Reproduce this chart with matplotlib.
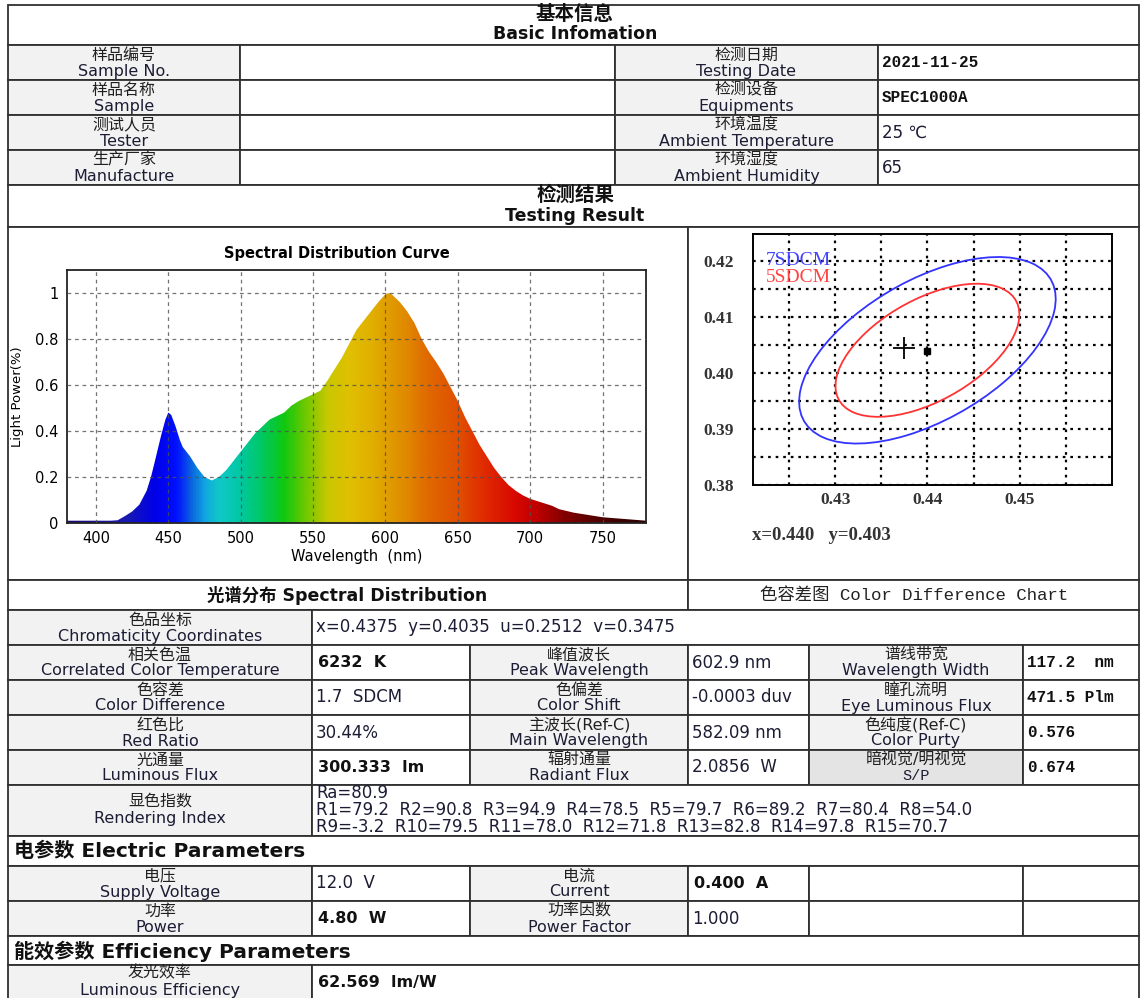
import numpy as np
import matplotlib
matplotlib.use("Agg")
import matplotlib.pyplot as plt
from matplotlib.patches import Rectangle, Ellipse
from matplotlib.colors import LinearSegmentedColormap

plt.rcParams['font.family'] = ['DejaVu Sans', 'Noto Sans CJK SC']

# ---- datos: curva espectral ----
wavelength = [380, 390, 400, 410, 415, 420, 425, 430, 435, 438, 440, 445, 448, 450, 452, 455,
              458, 460, 465, 470, 475, 480, 485, 490, 495, 500, 505, 510, 515, 520, 525, 530,
              535, 540, 545, 550, 555, 560, 565, 570, 575, 580, 585, 590, 595, 600, 603, 605,
              610, 615, 620, 625, 630, 635, 640, 645, 650, 655, 660, 665, 670, 675, 680, 685,
              690, 695, 700, 705, 710, 715, 720, 730, 740, 750, 760, 770, 780]
light_power = [0.01, 0.01, 0.01, 0.01, 0.012, 0.03, 0.05, 0.08, 0.14, 0.20, 0.25, 0.38, 0.45, 0.48,
               0.47, 0.42, 0.36, 0.33, 0.29, 0.24, 0.20, 0.185, 0.20, 0.23, 0.27, 0.31, 0.35, 0.39,
               0.42, 0.45, 0.465, 0.48, 0.51, 0.53, 0.545, 0.56, 0.575, 0.62, 0.67, 0.72, 0.78,
               0.84, 0.88, 0.92, 0.96, 0.995, 1.0, 0.99, 0.96, 0.92, 0.87, 0.80, 0.745, 0.70,
               0.65, 0.59, 0.53, 0.46, 0.40, 0.34, 0.29, 0.24, 0.20, 0.165, 0.14, 0.12, 0.105,
               0.095, 0.085, 0.075, 0.06, 0.045, 0.035, 0.025, 0.02, 0.015, 0.01]
spec_xticks = [400, 450, 500, 550, 600, 650, 700, 750]
spec_yticks = [0, 0.2, 0.4, 0.6, 0.8, 1]
spec_ylabels = ['0', '0.2', '0.4', '0.6', '0.8', '1']

# ---- datos: diagrama de tolerancia de color ----
sdcm7 = dict(xy=(0.4400, 0.4041), width=0.0385, height=0.0201, angle=54.2)
sdcm5 = dict(xy=(0.4400, 0.4041), width=0.0274, height=0.0146, angle=54.2)
cross_xy = (0.4375, 0.4045)
centre_xy = (0.4400, 0.4040)
centre_text = "x=0.440   y=0.403"
cd_xticks = [0.43, 0.44, 0.45]
cd_yticks = [0.38, 0.39, 0.40, 0.41, 0.42]
cd_xgrid = [0.425, 0.435, 0.445, 0.455]
cd_ygrid = [0.385, 0.395, 0.405, 0.415]

# ---- datos: tabla ----
basic_left = [("样品编号", "Sample No."), ("样品名称", "Sample"), ("测试人员", "Tester"), ("生产厂家", "Manufacture")]
basic_right = [("检测日期", "Testing Date", "2021-11-25"), ("检测设备", "Equipments", "SPEC1000A"),
               ("环境温度", "Ambient Temperature", "25 ℃"), ("环境湿度", "Ambient Humidity", "65")]
chroma = ("色品坐标", "Chromaticity Coordinates", "x=0.4375  y=0.4035  u=0.2512  v=0.3475")
optical_rows = [
    [("相关色温", "Correlated Color Temperature", "6232  K"), ("峰值波长", "Peak Wavelength", "602.9 nm"),
     ("谱线带宽", "Wavelength Width", "117.2  nm")],
    [("色容差", "Color Difference", "1.7  SDCM"), ("色偏差", "Color Shift", "-0.0003 duv"),
     ("瞳孔流明", "Eye Luminous Flux", "471.5 Plm")],
    [("红色比", "Red Ratio", "30.44%"), ("主波长(Ref-C)", "Main Wavelength", "582.09 nm"),
     ("色纯度(Ref-C)", "Color Purty", "0.576")],
    [("光通量", "Luminous Flux", "300.333  lm"), ("辐射通量", "Radiant Flux", "2.0856  W"),
     ("暗视觉/明视觉", "S/P", "0.674")],
]
render_lines = ["Ra=80.9",
                "R1=79.2  R2=90.8  R3=94.9  R4=78.5  R5=79.7  R6=89.2  R7=80.4  R8=54.0",
                "R9=-3.2  R10=79.5  R11=78.0  R12=71.8  R13=82.8  R14=97.8  R15=70.7"]
electric_rows = [[("电压", "Supply Voltage", "12.0  V"), ("电流", "Current", "0.400  A")],
                 [("功率", "Power", "4.80  W"), ("功率因数", "Power Factor", "1.000")]]
efficiency = ("发光效率", "Luminous Efficiency", "62.569  lm/W")

mono_texts = ["2021-11-25", "SPEC1000A", "117.2  nm", "471.5 Plm", "0.576", "0.674", "S/P"]
bold_values = ["6232  K", "300.333  lm", "4.80  W", "0.400  A", "62.569  lm/W"]

# ---- figura ----
W, H = 1140, 998
fig = plt.figure(figsize=(W / 100, H / 100), dpi=100)
base = fig.add_axes([0, 0, 1, 1])
base.set_xlim(0, W)
base.set_ylim(H, 0)
base.axis('off')

TXT = '#1c1c34'
CN = '#202020'
LINE = '#303030'
GRAY = '#f2f2f2'
MONO = ['Liberation Mono', 'Noto Sans CJK SC']


def px_axes(x0, y0, x1, y1):
    return fig.add_axes([x0 / W, 1 - y1 / H, (x1 - x0) / W, (y1 - y0) / H])


def cell(x0, y0, x1, y1, fill='white'):
    base.add_patch(Rectangle((x0, y0), x1 - x0, y1 - y0, facecolor=fill, edgecolor=LINE, lw=1.3, zorder=1))


def label(x0, y0, x1, y1, cn, en, fill=GRAY, dy=(10, 26)):
    cell(x0, y0, x1, y1, fill)
    xc = (x0 + x1) / 2
    base.text(xc, y0 + dy[0], cn, ha='center', va='center', fontsize=11.5, color=CN, zorder=3)
    if en in mono_texts:
        base.text(xc, y0 + dy[1], en, ha='center', va='center', fontsize=11, color=TXT, family=MONO, zorder=3)
    else:
        base.text(xc, y0 + dy[1], en, ha='center', va='center', fontsize=11.5, color=TXT, zorder=3)


def value(x0, y0, x1, y1, txt):
    cell(x0, y0, x1, y1)
    if not txt:
        return
    if txt in mono_texts:
        base.text(x0 + 4, (y0 + y1) / 2, txt, ha='left', va='center', fontsize=11.5, color='#111',
                  family=MONO, weight='bold', zorder=3)
    elif txt in bold_values:
        base.text(x0 + 6, (y0 + y1) / 2, txt, ha='left', va='center', fontsize=11.5, color='#111',
                  weight='bold', zorder=3)
    else:
        base.text(x0 + 4, (y0 + y1) / 2, txt, ha='left', va='center', fontsize=12, color=TXT, zorder=3)


R = 1139
# titulo
cell(8, 5, R, 45)
base.text(575, 14, "基本信息", ha='center', va='center', fontsize=14, weight='bold', color='#111')
base.text(575, 34, "Basic Infomation", ha='center', va='center', fontsize=12.5, weight='bold', color='#111')

tops = [45, 80, 115, 150, 185]
for i, (cn, en) in enumerate(basic_left):
    label(8, tops[i], 240, tops[i + 1], cn, en)
    value(240, tops[i], 615, tops[i + 1], "")
    rc, re_, rv = basic_right[i]
    label(615, tops[i], 878, tops[i + 1], rc, re_)
    value(878, tops[i], R, tops[i + 1], rv)

cell(8, 185, R, 227)
base.text(575, 195, "检测结果", ha='center', va='center', fontsize=14, weight='bold', color='#111')
base.text(575, 216, "Testing Result", ha='center', va='center', fontsize=12.5, weight='bold', color='#111')

cell(8, 227, 688, 580)
cell(688, 227, R, 580)
cell(8, 580, 688, 610)
cell(688, 580, R, 610)
base.text(347, 595, "光谱分布 Spectral Distribution", ha='center', va='center', fontsize=12.5,
          weight='bold', color='#111')
base.text(914, 595, "色容差图 Color Difference Chart", ha='center', va='center', fontsize=12.5,
          family=MONO, color='#222')

label(8, 610, 312, 645, chroma[0], chroma[1])
value(312, 610, R, 645, chroma[2])

cols = [8, 312, 470, 688, 809, 1023, R]
otops = [645, 680, 715, 750, 785]
for i, row in enumerate(optical_rows):
    for j, (cn, en, v) in enumerate(row):
        fill = '#e4e4e4' if en == "S/P" else GRAY
        label(cols[2 * j], otops[i], cols[2 * j + 1], otops[i + 1], cn, en, fill=fill)
        value(cols[2 * j + 1], otops[i], cols[2 * j + 2], otops[i + 1], v)

label(8, 785, 312, 836, "显色指数", "Rendering Index", dy=(16, 33))
cell(312, 785, R, 836)
for k, line in enumerate(render_lines):
    base.text(316, 793 + 17 * k, line, ha='left', va='center', fontsize=12, color=TXT)

cell(8, 836, R, 866)
base.text(14, 851, "电参数 Electric Parameters", ha='left', va='center', fontsize=14.5, weight='bold', color='#111')
etops = [866, 901, 936]
for i, row in enumerate(electric_rows):
    for j, (cn, en, v) in enumerate(row):
        label(cols[2 * j], etops[i], cols[2 * j + 1], etops[i + 1], cn, en)
        value(cols[2 * j + 1], etops[i], cols[2 * j + 2], etops[i + 1], v)
    cell(809, etops[i], 1023, etops[i + 1])
    cell(1023, etops[i], R, etops[i + 1])

cell(8, 936, R, 965)
base.text(14, 951, "能效参数 Efficiency Parameters", ha='left', va='center', fontsize=14.5, weight='bold', color='#111')
label(8, 965, 312, 1010, efficiency[0], efficiency[1], dy=(8, 26))
cell(312, 965, R, 1010)
base.text(318, 982, efficiency[2], ha='left', va='center', fontsize=11.5, weight='bold', color='#111')

# ---- curva espectral ----
ax = px_axes(67, 270, 646, 523)
stops_nm = [380, 420, 440, 455, 465, 475, 485, 500, 515, 530, 545, 560, 575, 590, 600, 615, 630,
            650, 670, 690, 705, 720, 740, 760, 780]
stops_col = ['#1a0a6e', '#1a1ab0', '#0000e8', '#0010ff', '#0a60e0', '#10a8e0', '#10c8c8', '#00c8a0',
             '#00c860', '#10c810', '#70c800', '#c8c800', '#e0c000', '#e0b000', '#e0a000', '#e08800',
             '#e06800', '#e05000', '#e02800', '#d80800', '#c00000', '#900000', '#600000', '#400000',
             '#300000']
spec_cmap = LinearSegmentedColormap.from_list(
    'espectro', [((s - 380) / 400, c) for s, c in zip(stops_nm, stops_col)])
grad = np.linspace(0, 1, 800).reshape(1, -1)
im = ax.imshow(grad, extent=[380, 780, 0, 1.1], aspect='auto', cmap=spec_cmap, origin='lower', zorder=1)
poly = ax.fill_between(wavelength, light_power, 0, facecolor='none', edgecolor='none')
im.set_clip_path(poly.get_paths()[0], transform=ax.transData)
ax.set_xlim(380, 780)
ax.set_ylim(0, 1.1)
ax.set_xticks(spec_xticks)
ax.set_yticks(spec_yticks)
ax.set_yticklabels(spec_ylabels)
ax.tick_params(length=0, labelsize=10.5, pad=6)
ax.grid(True, color='#505050', ls=(0, (3, 3)), lw=0.9, alpha=0.8, zorder=2)
ax.set_axisbelow(False)
for s in ax.spines.values():
    s.set_linewidth(1.3)
    s.set_color('#222')
ax.set_xlabel("Wavelength  (nm)", fontsize=10.5, labelpad=2)
ax.set_ylabel("Light Power(%)", fontsize=9.5)
ax.yaxis.set_label_coords(-0.075, 0.5)
base.text(337, 253, "Spectral Distribution Curve", ha='center', va='center', fontsize=10.5, weight='bold')

# ---- diagrama de tolerancia ----
cx = px_axes(753, 234, 1112, 485)
cx.set_xlim(0.4211, 0.4600)
cx.set_ylim(0.380, 0.4249)
cx.set_xticks(cd_xticks)
cx.set_xticklabels([f"{v:.2f}" for v in cd_xticks])
cx.set_yticks(cd_yticks)
cx.set_yticklabels([f"{v:.2f}" for v in cd_yticks])
cx.set_xticks(cd_xgrid, minor=True)
cx.set_yticks(cd_ygrid, minor=True)
cx.grid(True, which='both', color='black', ls=(0, (1.2, 2.2)), lw=1.6)
cx.tick_params(which='both', length=0)
cx.tick_params(axis='y', pad=14)
cx.tick_params(axis='x', pad=5)
for t in cx.get_xticklabels() + cx.get_yticklabels():
    t.set_family('Liberation Serif')
    t.set_fontsize(12.5)
    t.set_weight('bold')
    t.set_color('#333')
for s in cx.spines.values():
    s.set_linewidth(1.4)
cx.add_patch(Ellipse(**sdcm7, fill=False, edgecolor='#3333ff', lw=1.3, zorder=3))
cx.add_patch(Ellipse(**sdcm5, fill=False, edgecolor='#ff3333', lw=1.3, zorder=3))
cx.plot(*cross_xy, marker='+', ms=16, mew=1.3, color='black', zorder=4)
cx.plot(*centre_xy, marker='s', ms=5, color='black', zorder=4)
cx.text(0.036, 0.895, "7SDCM", transform=cx.transAxes, ha='left', va='center', color='#4444ff',
        family='Liberation Serif', fontsize=14)
cx.text(0.036, 0.825, "5SDCM", transform=cx.transAxes, ha='left', va='center', color='#ff4444',
        family='Liberation Serif', fontsize=14)
base.text(752, 536, centre_text, ha='left', va='center', family='Liberation Serif',
          fontsize=13.5, weight='bold', color='#333')

fig.savefig("out.png", dpi=100)
